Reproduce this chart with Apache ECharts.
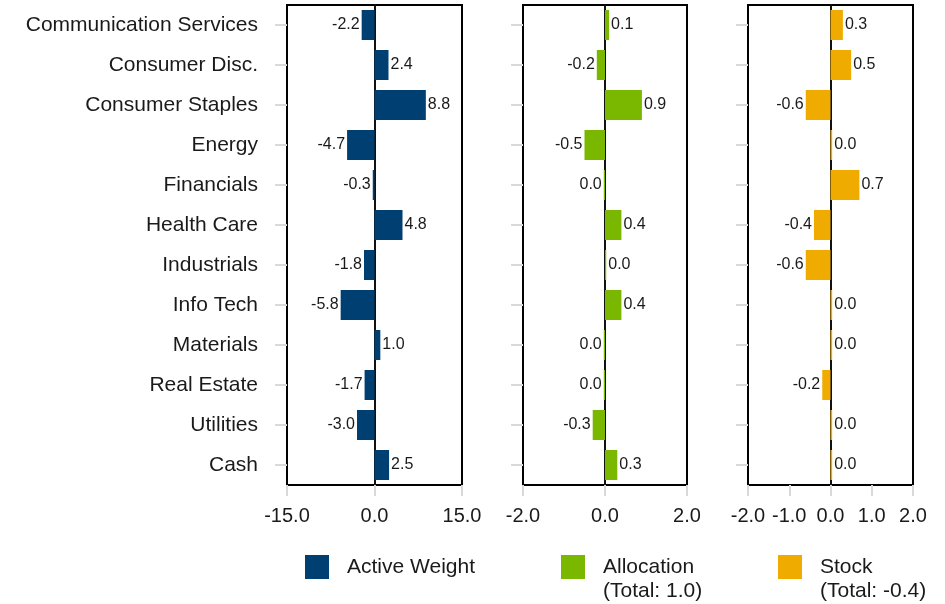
<!DOCTYPE html>
<html>
<head>
<meta charset="utf-8">
<script src="https://cdn.jsdelivr.net/npm/echarts@6/dist/echarts.min.js"></script>
<style>
html,body{margin:0;padding:0;background:#fff;}
#chart{width:945px;height:604px;}
</style>
</head>
<body>
<div id="chart"></div>
<script>
const categories = ['Communication Services', 'Consumer Disc.', 'Consumer Staples', 'Energy', 'Financials', 'Health Care', 'Industrials', 'Info Tech', 'Materials', 'Real Estate', 'Utilities', 'Cash'];
const activeWeight = [-2.2, 2.4, 8.8, -4.7, -0.3, 4.8, -1.8, -5.8, 1.0, -1.7, -3.0, 2.5];
const allocation = [0.1, -0.2, 0.9, -0.5, -0.03, 0.4, 0.03, 0.4, -0.03, -0.03, -0.3, 0.3];
const stock = [0.3, 0.5, -0.6, 0.04, 0.7, -0.4, -0.6, 0.04, 0.04, -0.2, 0.04, 0.04];
const seriesNames = ['Active Weight', 'Allocation', 'Stock'];
const allocationTotal = '1.0';
const stockTotal = '-0.4';
const ranges = [[-15, 15, 15], [-2, 2, 2], [-2, 2, 1]];

const colors = ['#003f72', '#7ab800', '#f0ab00'];
const FONT = '"Liberation Sans", Arial, sans-serif';
const TXT = '#1a1a1a';
const grids = [
  {left: 287, top: 5, width: 175, height: 480},
  {left: 523, top: 5, width: 164, height: 480},
  {left: 748, top: 5, width: 165, height: 480}
];
function fmt(v){ let s = v.toFixed(1); if (s === '-0.0') s = '0.0'; return s; }
function mk(arr){ return arr.map(v => ({value: v, label: {position: v < 0 ? 'left' : 'right'}})); }
const datasets = [activeWeight, allocation, stock];

const option = {
  animation: false,
  textStyle: {fontFamily: FONT},
  grid: grids.map(g => Object.assign({show: true, borderColor: '#000', borderWidth: 2, backgroundColor: 'transparent', containLabel: false, outerBoundsMode: 'none'}, g)),
  xAxis: ranges.map((r, i) => ({
    type: 'value', gridIndex: i, min: r[0], max: r[1], interval: r[2],
    axisLine: {show: false},
    axisTick: {show: true, length: 11, lineStyle: {color: '#d9d9d9', width: 2}},
    splitLine: {show: false},
    axisLabel: {fontSize: 20, color: TXT, margin: 21, fontFamily: FONT, formatter: v => v.toFixed(1)}
  })),
  yAxis: [0, 1, 2].flatMap(i => [
    {
      type: 'category', gridIndex: i, data: categories, inverse: true, position: 'left',
      axisLine: {show: false, onZero: false},
      axisTick: {show: true, alignWithLabel: true, length: 12, lineStyle: {color: '#d9d9d9', width: 2}},
      axisLabel: {show: i === 0, fontSize: 21, color: TXT, margin: 29, fontFamily: FONT},
      splitLine: {show: false}
    },
    {
      type: 'category', gridIndex: i, data: categories, inverse: true, position: 'right',
      axisLine: {show: true, onZero: true, lineStyle: {color: '#111', width: 2}},
      axisTick: {show: false}, axisLabel: {show: false}, splitLine: {show: false}
    }
  ]),
  legend: [
    {data: [seriesNames[0]], left: 305, top: 555, padding: 0, icon: 'rect', itemWidth: 24, itemHeight: 24,
     selectedMode: false,
     textStyle: {fontSize: 21, color: TXT, fontFamily: FONT, lineHeight: 24, padding: [0, 0, 0, 13]}},
    {data: [seriesNames[1]], left: 561, top: 531, padding: 0, icon: 'rect', itemWidth: 24, itemHeight: 24,
     selectedMode: false, formatter: n => '\n' + n + '\n(Total: ' + allocationTotal + ')',
     textStyle: {fontSize: 21, color: TXT, fontFamily: FONT, lineHeight: 24, padding: [0, 0, 0, 13]}},
    {data: [seriesNames[2]], left: 778, top: 531, padding: 0, icon: 'rect', itemWidth: 24, itemHeight: 24,
     selectedMode: false, formatter: n => '\n' + n + '\n(Total: ' + stockTotal + ')',
     textStyle: {fontSize: 21, color: TXT, fontFamily: FONT, lineHeight: 24, padding: [0, 0, 0, 13]}}
  ],
  series: datasets.map((d, i) => ({
    type: 'bar', name: seriesNames[i], xAxisIndex: i, yAxisIndex: i * 2,
    data: mk(d), barCategoryGap: '25%',
    itemStyle: {color: colors[i]},
    label: {show: true, fontSize: 16, color: TXT, fontFamily: FONT, distance: 2, formatter: p => fmt(p.value)}
  }))
};
const chart = echarts.init(document.getElementById('chart'), null, {renderer: 'canvas'});
chart.setOption(option);
</script>
</body>
</html>
